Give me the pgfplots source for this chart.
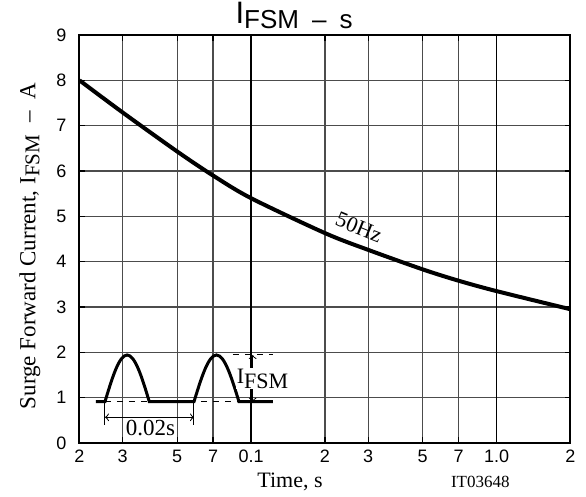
\documentclass[border=0pt]{standalone}
\usepackage{fontspec}
\setmainfont{Liberation Serif}
\setsansfont{Liberation Sans}
\usepackage{pgfplots}
\pgfplotsset{compat=1.18}
\begin{document}
\begin{tikzpicture}
\begin{axis}[
  name=ax, at={(0,0)}, anchor=south west,
  scale only axis, width=245.5pt, height=204pt,
  xmode=log, xmin=0.02, xmax=2, ymin=0, ymax=9,
  xtick={0.02,0.03,0.05,0.07,0.1,0.2,0.3,0.5,0.7,1,2},
  xticklabels={2,3,5,7,\raisebox{-2pt}{0.1},2,3,5,7,\raisebox{-2pt}{1.0},2},
  minor xtick={},
  ytick={0,1,...,9},
  grid=major,
  major grid style={line width=0.6pt, black!70},
  axis line style={line width=1pt},
  tick align=inside, major tick length=3pt,
  tick style={black, line width=0.6pt},
  ticklabel style={font=\sffamily\fontsize{9}{10}\selectfont},
  /pgf/number format/assume math mode=true,
  yticklabel style={xshift=-3pt},
  xlabel={Time, s},
  xlabel style={at={(axis description cs:0.4287,-0.0949)}, anchor=center,
    font=\fontsize{11}{13}\selectfont},
  ylabel={Surge Forward Current, I\raisebox{-2pt}{\fontsize{10.5}{11}\selectfont FSM}\hspace{6pt}--\hspace{6pt}A},
  ylabel style={at={(axis description cs:-0.101,0.483)}, anchor=center,
    font=\fontsize{11.5}{13}\selectfont},
  clip mode=individual,
]
% 0.1 and 1.0 decade lines drawn darker
\draw[black, line width=0.7pt] (axis cs:0.1,0) -- (axis cs:0.1,9);
\draw[black, line width=0.7pt] (axis cs:1,0) -- (axis cs:1,9);

\addplot[black, line width=2pt, smooth] coordinates {
  (0.02,8.0) (0.03,7.29) (0.05,6.43) (0.07,5.9) (0.1,5.4)
  (0.2,4.63) (0.3,4.26) (0.5,3.83) (0.7,3.58) (1,3.35) (2,2.95)
};
\node[rotate=-22, inner sep=0pt, font=\fontsize{11}{13}\selectfont] at (axis cs:0.275,4.76) {50Hz};

% inset waveform
\draw[dashed, line width=0.5pt] (axis description cs:0.0519,0.1012) -- (axis description cs:0.394,0.1012);
\draw[dashed, line width=0.5pt] (axis description cs:0.3126,0.2157) -- (axis description cs:0.394,0.2157);
\draw[line width=1.5pt]
  (axis description cs:0.0336,0.1012) -- (axis description cs:0.0519,0.1012)
  sin (axis description cs:0.097,0.2157) cos (axis description cs:0.1422,0.1012)
  -- (axis description cs:0.2332,0.1012)
  sin (axis description cs:0.279,0.2157) cos (axis description cs:0.3248,0.1012)
  -- (axis description cs:0.394,0.1012);
\draw[line width=0.5pt] (axis description cs:0.0519,0.1012) -- (axis description cs:0.0519,0.0441);
\draw[line width=0.5pt] (axis description cs:0.2332,0.1012) -- (axis description cs:0.2332,0.0441);
\draw[<->, line width=0.5pt] (axis description cs:0.0519,0.063) -- (axis description cs:0.2332,0.063);
\node[fill=white, inner sep=1pt, font=\fontsize{11.5}{13}\selectfont] at (axis description cs:0.1446,0.0368) {0.02s};
\draw[<->, line width=0.5pt] (axis description cs:0.3527,0.2157) -- (axis description cs:0.3527,0.1012);
\node[fill=white, inner sep=0.5pt, font=\fontsize{11}{12}\selectfont] at (axis description cs:0.3727,0.158) {I\raisebox{-2.5pt}{FSM}};

% title and drawing number
\node[anchor=base, inner sep=0pt, font=\sffamily\fontsize{13}{14}\selectfont] at (axis description cs:0.437,1.016)
  {\raisebox{2.7pt}{\fontsize{15.5}{17}\selectfont I}FSM\enspace--\enspace s};
\node[anchor=east, inner sep=0pt, font=\fontsize{8.5}{9}\selectfont] at (axis description cs:0.8768,-0.0956) {IT03648};
\end{axis}
\pgfresetboundingbox
\path (-39.75pt,-27pt) rectangle (253.25pt,221.5pt);
\end{tikzpicture}
\end{document}
